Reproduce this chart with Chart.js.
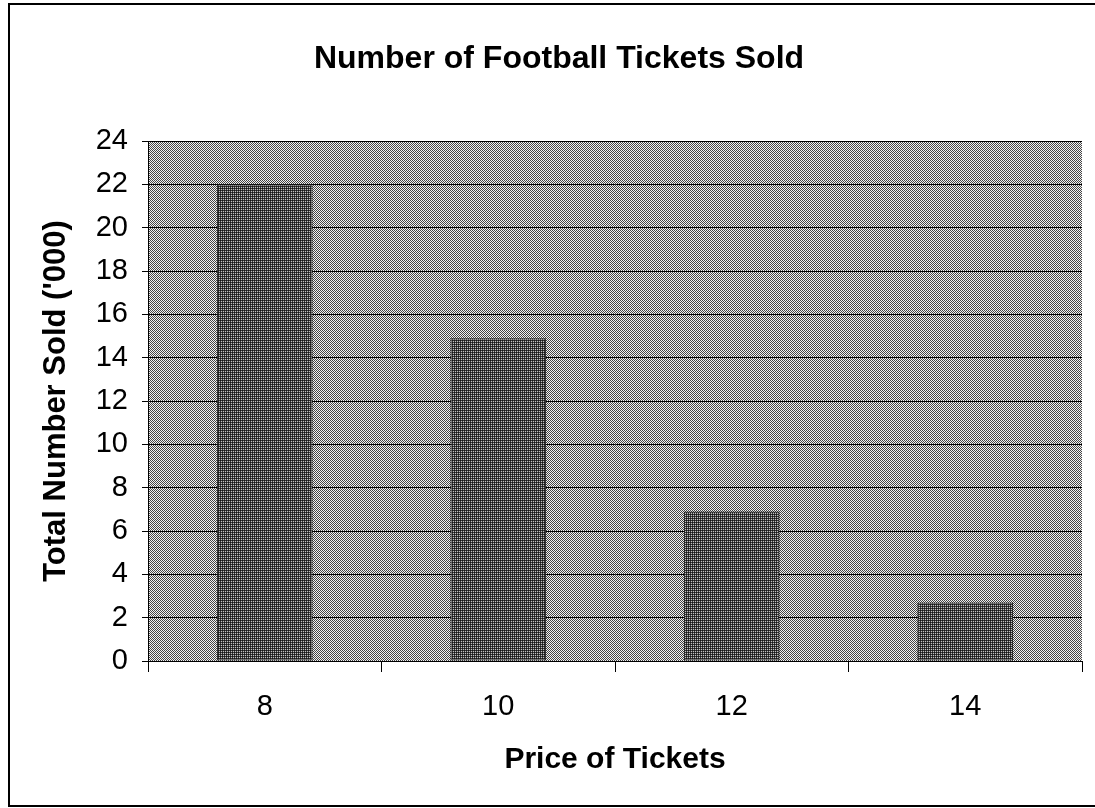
<!DOCTYPE html>
<html>
<head>
<meta charset="utf-8">
<script src="https://cdn.jsdelivr.net/npm/chart.js@4.4.0/dist/chart.umd.min.js"></script>
<style>
  html, body { margin: 0; padding: 0; background: #ffffff; }
  #wrap { width: 1095px; height: 808px; }
</style>
</head>
<body>
<div id="wrap"><canvas id="c" width="1095" height="808"></canvas></div>
<script>
// ---- Data ----
const chartTitle = 'Number of Football Tickets Sold';
const xAxisTitle = 'Price of Tickets';
const yAxisTitle = "Total Number Sold ('000)";
const priceCategories = ['8', '10', '12', '14'];
const ticketsSold = [22, 14.9, 6.9, 2.7];
const yTickMin = 0;
const yTickMax = 24;
const yTickStep = 2;

// ---- Dither patterns ----
function makePattern(cells) {
  const n = cells.length;
  const pc = document.createElement('canvas');
  pc.width = n; pc.height = n;
  const g = pc.getContext('2d');
  for (let y = 0; y < n; y++) {
    for (let x = 0; x < n; x++) {
      g.fillStyle = cells[y][x];
      g.fillRect(x, y, 1, 1);
    }
  }
  return g.createPattern(pc, 'repeat');
}
const ctx = document.getElementById('c').getContext('2d');
const bgPattern = makePattern([
  ['#444444', '#f2f2f2'],
  ['#f2f2f2', '#444444']
]);
const barPattern = makePattern([
  ['#151515', '#3a3a3a'],
  ['#3a3a3a', '#c0c0c0']
]);

const FONT = "'Liberation Sans', Arial, sans-serif";

const plotBackground = {
  id: 'plotBackground',
  beforeDraw(chart) {
    const { ctx, chartArea: a } = chart;
    ctx.save();
    ctx.fillStyle = '#ffffff';
    ctx.fillRect(0, 0, chart.width, chart.height);
    ctx.fillStyle = bgPattern;
    ctx.fillRect(a.left, a.top, a.right - a.left, a.bottom - a.top);
    ctx.restore();
  },
  afterDraw(chart) {
    const { ctx } = chart;
    ctx.save();
    ctx.strokeStyle = '#000000';
    ctx.lineWidth = 2;
    ctx.strokeRect(9, 4, 1100, 802);
    ctx.restore();
  }
};

new Chart(ctx, {
  type: 'bar',
  data: {
    labels: priceCategories,
    datasets: [{
      data: ticketsSold,
      backgroundColor: barPattern,
      borderColor: '#1a1a1a',
      borderWidth: 1,
      borderSkipped: false,
      barPercentage: 0.41,
      categoryPercentage: 1.0
    }]
  },
  plugins: [plotBackground],
  options: {
    responsive: false,
    animation: false,
    devicePixelRatio: 1,
    layout: { padding: { left: 36, right: 13, top: 0, bottom: 0 } },
    plugins: {
      legend: { display: false },
      tooltip: { enabled: false },
      title: {
        display: true,
        text: chartTitle,
        color: '#000000',
        font: { family: FONT, size: 32, weight: 'bold', lineHeight: 1.2 },
        padding: { top: 40, bottom: 62.6 }
      }
    },
    scales: {
      x: {
        afterFit(scale) { scale.height = 147; },
        grid: {
          display: true,
          offset: true,
          drawOnChartArea: false,
          drawTicks: true,
          tickLength: 11,
          color: '#000000',
          lineWidth: 1
        },
        border: { display: true, color: '#000000', width: 1 },
        ticks: {
          color: '#000000',
          padding: 18,
          maxRotation: 0,
          font: { family: FONT, size: 29 }
        },
        title: {
          display: true,
          text: xAxisTitle,
          color: '#000000',
          font: { family: FONT, size: 30, weight: 'bold', lineHeight: 1.2 },
          padding: { top: 0, bottom: 30 }
        }
      },
      y: {
        min: yTickMin,
        max: yTickMax,
        afterFit(scale) { scale.width = 112; },
        grid: {
          display: true,
          drawOnChartArea: true,
          drawTicks: true,
          tickLength: 6,
          color: '#000000',
          lineWidth: 1
        },
        border: { display: true, color: '#000000', width: 1 },
        ticks: {
          stepSize: yTickStep,
          color: '#000000',
          padding: 14,
          font: { family: FONT, size: 29 }
        },
        title: {
          display: true,
          text: yAxisTitle,
          color: '#000000',
          font: { family: FONT, size: 31, weight: 'bold', lineHeight: 1.2 },
          padding: { top: 2, bottom: 0 }
        }
      }
    }
  }
});
</script>
</body>
</html>
